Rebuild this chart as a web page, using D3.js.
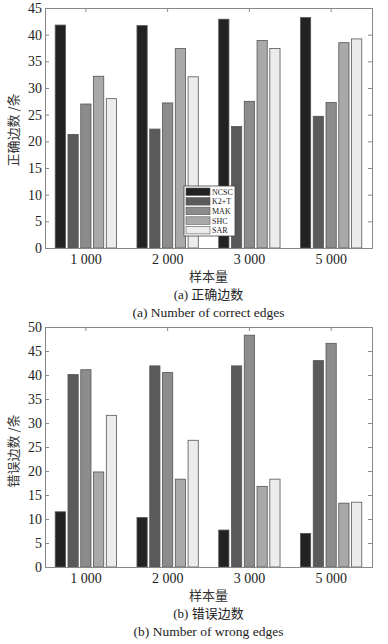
<!DOCTYPE html>
<html>
<head>
<meta charset="utf-8">
<script src="https://cdn.jsdelivr.net/npm/d3@7"></script>
<style>
  body { margin: 0; background: #fff; }
  text { font-family: "Liberation Serif", "Times New Roman", serif; fill: #222; }
  .cjk { font-family: "Noto Sans CJK SC", sans-serif; }
</style>
</head>
<body>
<script>
/////////////////////////////////////////////////
// data
/////////////////////////////////////////////////
var categories = ["1 000", "2 000", "3 000", "5 000"];
var methods    = ["NCSC", "K2+T", "MAK", "SHC", "SAR"];
var colors     = ["#222222", "#5a5a5a", "#8c8c8c", "#a9a9a9", "#ececec"];

// correct edges, one row per method
var correctEdges = [
  [41.8, 41.7, 42.9, 43.2],
  [21.3, 22.3, 22.8, 24.7],
  [27.0, 27.2, 27.5, 27.3],
  [32.2, 37.4, 38.9, 38.5],
  [28.0, 32.1, 37.4, 39.2]
];
// wrong edges
var wrongEdges = [
  [11.5, 10.3, 7.7, 7.0],
  [40.1, 41.9, 41.9, 43.0],
  [41.1, 40.5, 48.3, 46.6],
  [19.8, 18.3, 16.8, 13.3],
  [31.6, 26.4, 18.3, 13.5]
];
var correctTicks = [0, 5, 10, 15, 20, 25, 30, 35, 40, 45];
var wrongTicks   = [0, 5, 10, 15, 20, 25, 30, 35, 40, 45, 50];

var width = 388, height = 644;
var svg = d3.select("body").append("svg")
    .attr("width", width)
    .attr("height", height);

/////////////////////////////////////////////////
// drawPanel - one grouped bar chart with box axes
/////////////////////////////////////////////////
function drawPanel(opt) {
  var left = 45, right = 372;
  var x0 = d3.scaleBand().domain(categories).range([left, right]).paddingInner(0).paddingOuter(0);
  var x1 = d3.scaleBand().domain(methods).range([0, x0.bandwidth()]).paddingInner(0.2).paddingOuter(0.8);
  var y  = d3.scaleLinear().domain([0, opt.max]).range([opt.bottom, opt.top]);

  var g = svg.append("g");

  // bars
  var groups = g.selectAll("g.grp")
    .data(categories)
    .enter().append("g")
    .attr("class", "grp")
    .attr("transform", function(d) { return "translate(" + x0(d) + ",0)"; });

  groups.selectAll("rect")
    .data(function(c, ci) {
      return methods.map(function(m, mi) { return { m: m, i: mi, v: opt.values[mi][ci] }; });
    })
    .enter().append("rect")
    .attr("x", function(d) { return x1(d.m); })
    .attr("width", x1.bandwidth())
    .attr("y", function(d) { return y(d.v); })
    .attr("height", function(d) { return opt.bottom - y(d.v); })
    .style("fill", function(d) { return colors[d.i]; })
    .style("stroke", "#555")
    .style("stroke-width", 0.8);

  // axes (box with inward ticks)
  var axL = d3.axisLeft(y).tickValues(opt.ticks).tickSize(-4).tickPadding(3);
  var axR = d3.axisRight(y).tickValues(opt.ticks).tickSize(-4).tickFormat("");
  var axB = d3.axisBottom(x0).tickSize(-4).tickPadding(6);
  var axT = d3.axisTop(x0).tickSize(-4).tickFormat("");

  g.append("g").attr("transform", "translate(" + left + ",0)").call(axL);
  g.append("g").attr("transform", "translate(" + right + ",0)").call(axR);
  g.append("g").attr("transform", "translate(0," + opt.bottom + ")").call(axB);
  g.append("g").attr("transform", "translate(0," + opt.top + ")").call(axT);

  g.selectAll(".domain, .tick line").style("stroke", "#888").style("stroke-width", 1);
  g.selectAll(".tick text")
    .style("font-family", "'Liberation Serif', serif")
    .style("font-size", "14px")
    .style("fill", "#222");

  // y label
  g.append("text")
    .attr("class", "cjk")
    .attr("transform", "translate(13," + opt.yMid + ") rotate(-90)")
    .attr("text-anchor", "middle")
    .attr("dy", "0.35em")
    .style("font-size", "13px")
    .style("fill", "#333")
    .text(opt.yLabel);

  // x label + captions
  var cx = (left + right) / 2;
  g.append("text").attr("class", "cjk")
    .attr("x", cx).attr("y", opt.bottom + 28).attr("dy", "0.35em")
    .attr("text-anchor", "middle").style("font-size", "13px")
    .style("fill", "#333")
    .text("样本量");
  g.append("text")
    .attr("x", cx).attr("y", opt.bottom + 46).attr("dy", "0.35em")
    .attr("text-anchor", "middle").style("font-size", "13px")
    .html(opt.capLetter + " <tspan class='cjk'>" + opt.capCn + "</tspan>");
  g.append("text")
    .attr("x", cx).attr("y", opt.bottom + 64).attr("dy", "0.35em")
    .attr("text-anchor", "middle").style("font-size", "13.5px")
    .text(opt.capEn);

  return g;
}

drawPanel({
  values: correctEdges, max: 45, ticks: correctTicks,
  top: 8, bottom: 248, yMid: 130,
  yLabel: "正确边数 /条",
  capLetter: "(a)", capCn: "正确边数", capEn: "(a) Number of correct edges"
});

drawPanel({
  values: wrongEdges, max: 50, ticks: wrongTicks,
  top: 327, bottom: 567, yMid: 451,
  yLabel: "错误边数 /条",
  capLetter: "(b)", capCn: "错误边数", capEn: "(b) Number of wrong edges"
});

// legend (top panel only)
var legend = svg.append("g").attr("transform", "translate(184,186)");
legend.append("rect")
  .attr("width", 51).attr("height", 50)
  .style("fill", "#fff").style("stroke", "#444").style("stroke-width", 0.8);
var rows = legend.selectAll("g.row")
  .data(methods)
  .enter().append("g")
  .attr("class", "row")
  .attr("transform", function(d, i) { return "translate(2," + (2 + i * 9.6) + ")"; });
rows.append("rect")
  .attr("width", 24).attr("height", 7.5)
  .style("fill", function(d, i) { return colors[i]; })
  .style("stroke", "#555").style("stroke-width", 0.6);
rows.append("text")
  .attr("x", 26).attr("y", 4).attr("dy", "0.35em")
  .style("font-size", "8px")
  .text(function(d) { return d; });
</script>
</body>
</html>
